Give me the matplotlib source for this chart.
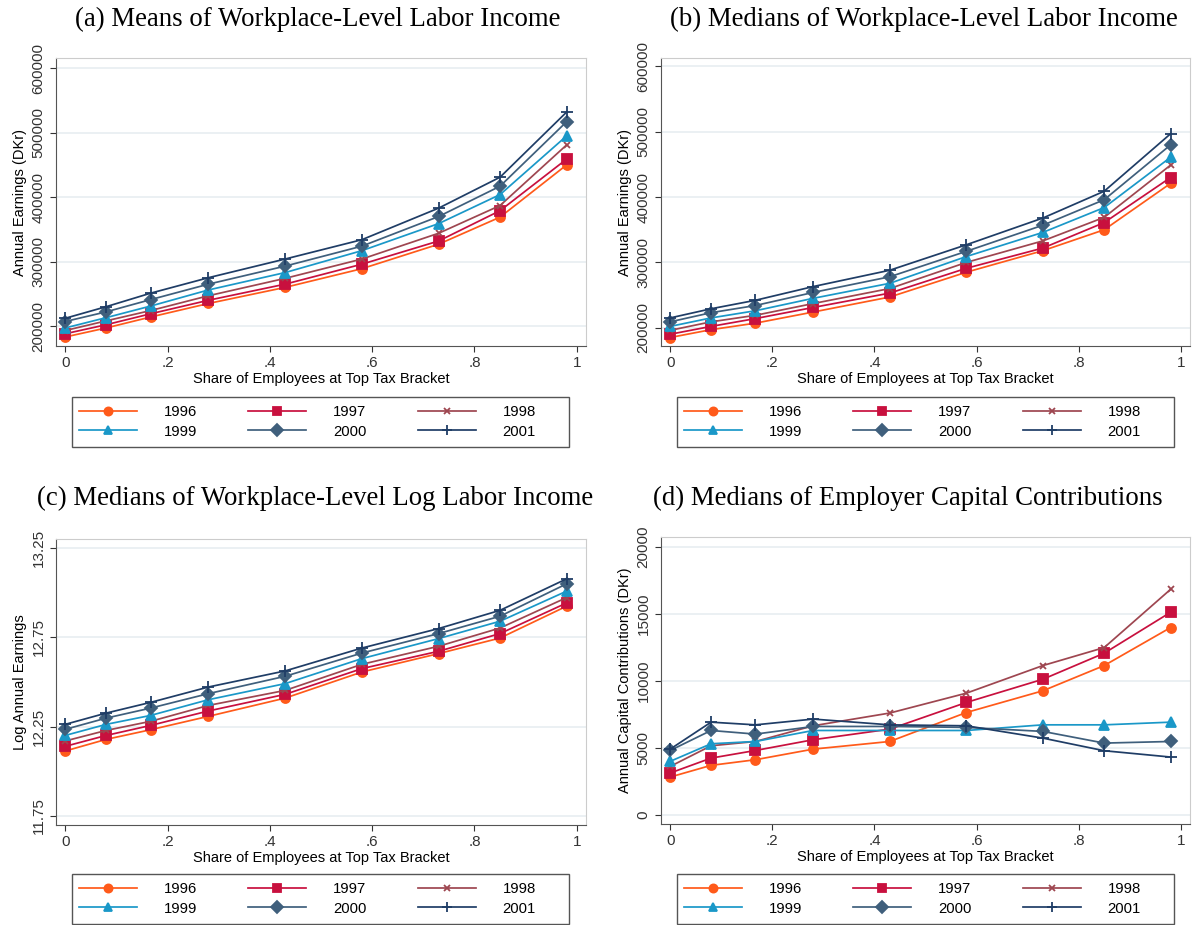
import matplotlib
matplotlib.use("Agg")
import matplotlib.pyplot as plt
from matplotlib.patches import Rectangle

# Anteil der Beschäftigten im Spitzensteuersatz (x-Positionen)
share = [0.0, 0.08, 0.167, 0.28, 0.43, 0.58, 0.73, 0.85, 0.98]
years = ["1996", "1997", "1998", "1999", "2000", "2001"]

# (a) Mittelwerte
means_1996 = [183000, 197000, 214000, 235000, 260000, 289000, 327000, 369000, 450000]
means_1997 = [188000, 202000, 219000, 240000, 265000, 296000, 332000, 379000, 459000]
means_1998 = [193000, 208000, 224000, 247000, 274000, 304000, 344000, 387000, 481000]
means_1999 = [197000, 213000, 231000, 256000, 283000, 317000, 359000, 404000, 495000]
means_2000 = [207000, 222000, 241000, 265000, 293000, 324000, 370000, 417000, 517000]
means_2001 = [212000, 230000, 251000, 275000, 304000, 334000, 383000, 431000, 532000]

# (b) Mediane
med_1996 = [185000, 197000, 207000, 224000, 247000, 285000, 318000, 350000, 421000]
med_1997 = [190000, 202000, 214000, 231000, 253000, 291000, 322000, 361000, 430000]
med_1998 = [196000, 209000, 219000, 237000, 260000, 300000, 333000, 369000, 449000]
med_1999 = [202000, 215000, 226000, 245000, 268000, 309000, 346000, 384000, 461000]
med_2000 = [209000, 223000, 234000, 254000, 278000, 317000, 357000, 396000, 480000]
med_2001 = [215000, 229000, 242000, 263000, 288000, 327000, 368000, 409000, 497000]

# (c) Mediane des Log-Einkommens
log_1996 = [12.114, 12.179, 12.233, 12.308, 12.410, 12.556, 12.659, 12.746, 12.924]
log_1997 = [12.140, 12.201, 12.257, 12.338, 12.431, 12.575, 12.672, 12.771, 12.942]
log_1998 = [12.170, 12.229, 12.280, 12.369, 12.453, 12.599, 12.700, 12.802, 12.972]
log_1999 = [12.201, 12.263, 12.313, 12.401, 12.491, 12.631, 12.743, 12.840, 13.008]
log_2000 = [12.235, 12.298, 12.354, 12.435, 12.532, 12.662, 12.771, 12.868, 13.049]
log_2001 = [12.263, 12.326, 12.386, 12.472, 12.562, 12.690, 12.799, 12.901, 13.077]

# (d) Kapitalbeiträge
cap_1996 = [2830, 3700, 4120, 4910, 5480, 7640, 9260, 11140, 13970]
cap_1997 = [3130, 4240, 4810, 5610, 6400, 8390, 10120, 12060, 15110]
cap_1998 = [3620, 5160, 5480, 6650, 7600, 9080, 11140, 12480, 16820]
cap_1999 = [4000, 5310, 5480, 6300, 6300, 6300, 6720, 6720, 6920]
cap_2000 = [4810, 6300, 6030, 6600, 6600, 6530, 6230, 5360, 5480]
cap_2001 = [4910, 6920, 6720, 7150, 6720, 6650, 5730, 4790, 4320]

colors = ["#ff5a1a", "#c8103e", "#9e4650", "#1a98c8", "#3f5f7c", "#1f3d66"]
markers = ["o", "s", "x", "^", "D", "+"]
msizes = [6.5, 6.5, 4.5, 6.5, 6.5, 8]

xticks = [0, 0.2, 0.4, 0.6, 0.8, 1.0]
xticklabels = ["0", ".2", ".4", ".6", ".8", "1"]

sans = "Liberation Sans"
serif = "Liberation Serif"
W, H = 1193.0, 925.0


def draw_panel(fig, ax, series, yticks, ylim, ylabel, box):
    lines = []
    for i, ys in enumerate(series):
        ln, = ax.plot(share, ys, color=colors[i], marker=markers[i], markersize=msizes[i],
                      markeredgewidth=1.3, linewidth=1.25, label=years[i])
        lines.append(ln)
    ax.set_xlim(-0.018, 1.018)
    ax.set_ylim(*ylim)
    ax.set_xticks(xticks)
    ax.set_xticklabels(xticklabels, fontfamily=sans, fontsize=11)
    ax.set_yticks(yticks)
    ax.set_yticklabels([str(t) for t in yticks], rotation=90, va="center",
                       fontfamily=sans, fontsize=11)
    ax.yaxis.grid(True, color="#e8eef1", linewidth=1.2)
    ax.set_axisbelow(True)
    ax.set_xlabel("Share of Employees at Top Tax Bracket", fontfamily=sans,
                  fontsize=10.5, labelpad=1)
    ax.set_ylabel(ylabel, fontfamily=sans, fontsize=10.5, labelpad=3)
    for side in ["left", "bottom"]:
        ax.spines[side].set_color("#555555")
    for side in ["top", "right"]:
        ax.spines[side].set_color("#cccccc")
    ax.tick_params(colors="#333333", length=4)

    # Legende: zeilenweise 1996-1998 / 1999-2001, Rahmen separat gezeichnet
    x0, y0, x1, y1 = box
    order = [0, 3, 1, 4, 2, 5]
    ax.legend([lines[k] for k in order], [years[k] for k in order],
              loc="center left", bbox_to_anchor=((x0 + 7) / W, 1 - (y0 + y1) / 2 / H),
              bbox_transform=fig.transFigure, ncol=3, frameon=False,
              borderpad=0, borderaxespad=0, handlelength=3.9, handletextpad=1.8,
              columnspacing=3.45, labelspacing=0.35, markerscale=0.9,
              prop={"family": sans, "size": 10.7})
    fig.patches.append(Rectangle((x0 / W, 1 - y1 / H), (x1 - x0) / W, (y1 - y0) / H,
                                 transform=fig.transFigure, fill=False,
                                 edgecolor="#555555", linewidth=1.0))


fig = plt.figure(figsize=(11.93, 9.25), dpi=100)

ax_a = fig.add_axes([56 / W, 1 - 346 / H, 530 / W, 288 / H])
ax_b = fig.add_axes([661 / W, 1 - 346 / H, 529 / W, 288 / H])
ax_c = fig.add_axes([56 / W, 1 - 825 / H, 530 / W, 286 / H])
ax_d = fig.add_axes([661 / W, 1 - 824 / H, 529 / W, 287 / H])

earn_ticks = [200000, 300000, 400000, 500000, 600000]

draw_panel(fig, ax_a, [means_1996, means_1997, means_1998, means_1999, means_2000, means_2001],
           earn_ticks, (169000, 616000), "Annual Earnings (DKr)", (72, 397, 569, 447))
draw_panel(fig, ax_b, [med_1996, med_1997, med_1998, med_1999, med_2000, med_2001],
           earn_ticks, (172000, 613000), "Annual Earnings (DKr)", (677, 397, 1174, 447))
draw_panel(fig, ax_c, [log_1996, log_1997, log_1998, log_1999, log_2000, log_2001],
           [11.75, 12.25, 12.75, 13.25], (11.70, 13.30), "Log Annual Earnings",
           (72, 874, 569, 924))
draw_panel(fig, ax_d, [cap_1996, cap_1997, cap_1998, cap_1999, cap_2000, cap_2001],
           [0, 5000, 10000, 15000, 20000], (-670, 20720),
           "Annual Capital Contributions (DKr)", (677, 874, 1174, 924))

title_size = 19.3
fig.text(318 / W, 1 - 19 / H, "(a) Means of Workplace-Level Labor Income",
         ha="center", va="center", fontfamily=serif, fontsize=title_size)
fig.text(924 / W, 1 - 19 / H, "(b) Medians of Workplace-Level Labor Income",
         ha="center", va="center", fontfamily=serif, fontsize=title_size)
fig.text(315 / W, 1 - 498 / H, "(c) Medians of Workplace-Level Log Labor Income",
         ha="center", va="center", fontfamily=serif, fontsize=title_size)
fig.text(908 / W, 1 - 498 / H, "(d) Medians of Employer Capital Contributions",
         ha="center", va="center", fontfamily=serif, fontsize=title_size)

plt.savefig("out.png", dpi=100)
